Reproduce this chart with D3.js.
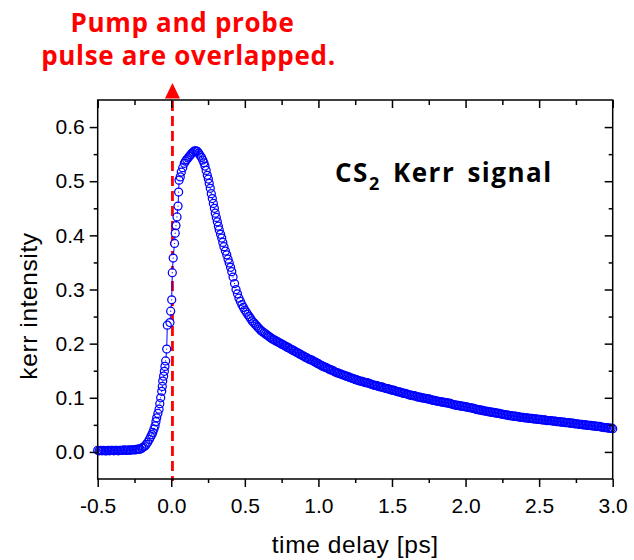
<!DOCTYPE html>
<html>
<head>
<meta charset="utf-8">
<script src="https://cdn.jsdelivr.net/npm/d3@7"></script>
<style>
  html, body { margin: 0; padding: 0; background: #ffffff; }
  svg { display: block; }
</style>
</head>
<body>
<svg id="chart" width="634" height="560"></svg>
<script>
// ---------------- data ----------------
const timeDelay = [
  // baseline
  -0.50,-0.49,-0.48,-0.47,-0.46,-0.45,-0.44,-0.43,-0.42,-0.41,
  -0.40,-0.39,-0.38,-0.37,-0.36,-0.35,-0.34,-0.33,-0.32,-0.31,
  -0.30,-0.29,-0.28,-0.27,-0.26,-0.25,-0.24,-0.23,-0.22,
  // rise
  -0.212,-0.200,-0.190,-0.178,-0.170,-0.160,-0.149,-0.140,-0.132,-0.126,
  -0.118,-0.110,-0.104,-0.099,-0.091,-0.083,-0.078,-0.072,-0.065,-0.061,
  -0.058,-0.052,-0.047,-0.043,-0.038,-0.031,-0.027,-0.009,-0.004,0.003,
  // peak and fast decay
  0.007,0.013,0.022,0.027,0.032,0.039,0.046,0.050,0.053,0.061,
  0.068,0.078,0.089,0.097,0.105,0.114,0.123,0.132,0.141,0.150,
  0.159,0.168,0.177,0.186,0.195,0.205,0.214,0.222,0.229,0.237,
  0.245,0.252,0.258,0.265,0.272,0.279,0.286,0.293,0.299,0.306,
  0.313,0.320,0.326,0.335,0.343,0.350,0.358,0.368,0.377,0.386,
  0.394,0.403,0.411,
  0.42,0.43,0.44,0.45,0.46,0.47,0.48,0.49,
  // slow decay
  0.50,0.51,0.52,0.53,0.54,0.55,0.56,0.57,0.58,0.59,
  0.60,0.61,0.62,0.63,0.64,0.65,0.66,0.67,0.68,0.69,
  0.70,0.71,0.72,0.73,0.74,0.75,0.76,0.77,0.78,0.79,
  0.80,0.81,0.82,0.83,0.84,0.85,0.86,0.87,0.88,0.89,
  0.90,0.91,0.92,0.93,0.94,0.95,0.96,0.97,0.98,0.99,
  1.00,1.01,1.02,1.03,1.04,1.05,1.06,1.07,1.08,1.09,
  1.10,1.11,1.12,1.13,1.14,1.15,1.16,1.17,1.18,1.19,
  1.20,1.21,1.22,1.23,1.24,1.25,1.26,1.27,1.28,1.29,
  1.30,1.31,1.32,1.33,1.34,1.35,1.36,1.37,1.38,1.39,
  1.40,1.41,1.42,1.43,1.44,1.45,1.46,1.47,1.48,1.49,
  1.50,1.51,1.52,1.53,1.54,1.55,1.56,1.57,1.58,1.59,
  1.60,1.61,1.62,1.63,1.64,1.65,1.66,1.67,1.68,1.69,
  1.70,1.71,1.72,1.73,1.74,1.75,1.76,1.77,1.78,1.79,
  1.80,1.81,1.82,1.83,1.84,1.85,1.86,1.87,1.88,1.89,
  1.90,1.91,1.92,1.93,1.94,1.95,1.96,1.97,1.98,1.99,
  2.00,2.01,2.02,2.03,2.04,2.05,2.06,2.07,2.08,2.09,
  2.10,2.11,2.12,2.13,2.14,2.15,2.16,2.17,2.18,2.19,
  2.20,2.21,2.22,2.23,2.24,2.25,2.26,2.27,2.28,2.29,
  2.30,2.31,2.32,2.33,2.34,2.35,2.36,2.37,2.38,2.39,
  2.40,2.41,2.42,2.43,2.44,2.45,2.46,2.47,2.48,2.49,
  2.50,2.51,2.52,2.53,2.54,2.55,2.56,2.57,2.58,2.59,
  2.60,2.61,2.62,2.63,2.64,2.65,2.66,2.67,2.68,2.69,
  2.70,2.71,2.72,2.73,2.74,2.75,2.76,2.77,2.78,2.79,
  2.80,2.81,2.82,2.83,2.84,2.85,2.86,2.87,2.88,2.89,
  2.90,2.91,2.92,2.93,2.94,2.95,2.96,2.97,2.98,2.99,
  3.00
];
const kerrIntensity = [
  // baseline
  0.003,0.002,0.003,0.002,0.003,0.002,0.002,0.003,0.002,0.003,
  0.003,0.002,0.003,0.003,0.002,0.003,0.003,0.003,0.004,0.003,
  0.003,0.004,0.003,0.004,0.004,0.004,0.004,0.005,0.005,
  // rise
  0.005,0.007,0.009,0.011,0.014,0.018,0.023,0.028,0.032,0.036,
  0.042,0.048,0.056,0.063,0.071,0.079,0.089,0.100,0.112,0.121,
  0.131,0.140,0.149,0.158,0.168,0.190,0.234,0.239,0.260,0.281,
  // peak and fast decay
  0.331,0.358,0.385,0.404,0.418,0.434,0.454,0.480,0.502,0.508,
  0.517,0.525,0.533,0.537,0.540,0.543,0.546,0.549,0.552,0.554,
  0.556,0.556,0.555,0.552,0.548,0.544,0.539,0.534,0.528,0.520,
  0.511,0.504,0.496,0.487,0.477,0.468,0.459,0.450,0.441,0.433,
  0.425,0.417,0.410,0.402,0.395,0.387,0.379,0.371,0.364,0.356,
  0.349,0.341,0.333,
  0.323,0.311,0.300,0.292,0.284,0.278,0.272,0.267,
  // slow decay
  0.262,0.258,0.254,0.250,0.246,0.242,0.239,0.236,0.233,0.230,
  0.227,0.224,0.222,0.220,0.218,0.216,0.214,0.212,0.210,0.208,
  0.207,0.205,0.204,0.202,0.201,0.199,0.198,0.196,0.195,0.193,
  0.192,0.190,0.189,0.187,0.186,0.184,0.183,0.181,0.180,0.178,
  0.177,0.175,0.174,0.172,0.171,0.170,0.169,0.167,0.166,0.164,
  0.163,0.161,0.160,0.158,0.157,0.156,0.155,0.153,0.152,0.151,
  0.150,0.148,0.147,0.146,0.145,0.144,0.143,0.142,0.141,0.140,
  0.139,0.138,0.137,0.136,0.135,0.134,0.133,0.132,0.131,0.131,
  0.130,0.129,0.128,0.128,0.127,0.126,0.125,0.124,0.123,0.123,
  0.122,0.121,0.120,0.120,0.119,0.118,0.117,0.117,0.116,0.115,
  0.114,0.114,0.113,0.112,0.111,0.111,0.110,0.109,0.108,0.108,
  0.107,0.106,0.105,0.105,0.104,0.104,0.103,0.102,0.101,0.101,
  0.100,0.100,0.099,0.099,0.098,0.098,0.097,0.096,0.095,0.095,
  0.094,0.094,0.093,0.093,0.092,0.092,0.091,0.091,0.090,0.090,
  0.089,0.088,0.087,0.087,0.086,0.086,0.085,0.085,0.084,0.084,
  0.083,0.083,0.082,0.082,0.081,0.081,0.080,0.079,0.078,0.078,
  0.077,0.077,0.076,0.076,0.075,0.075,0.074,0.074,0.073,0.073,
  0.072,0.072,0.071,0.071,0.070,0.070,0.069,0.069,0.068,0.068,
  0.067,0.067,0.066,0.066,0.066,0.065,0.065,0.064,0.064,0.064,
  0.063,0.063,0.063,0.062,0.062,0.062,0.061,0.061,0.061,0.060,
  0.060,0.060,0.059,0.059,0.059,0.058,0.058,0.058,0.058,0.057,
  0.057,0.057,0.056,0.056,0.056,0.055,0.055,0.055,0.054,0.054,
  0.054,0.053,0.053,0.053,0.052,0.052,0.052,0.051,0.051,0.051,
  0.050,0.050,0.050,0.049,0.049,0.049,0.048,0.048,0.048,0.047,
  0.047,0.047,0.046,0.046,0.045,0.045,0.045,0.044,0.044,0.044,
  0.043
];

const xTickValues = [-0.5, 0.0, 0.5, 1.0, 1.5, 2.0, 2.5, 3.0];
const xMinorValues = [-0.25, 0.25, 0.75, 1.25, 1.75, 2.25, 2.75];
const yTickValues = [0.0, 0.1, 0.2, 0.3, 0.4, 0.5, 0.6];
const yMinorValues = [0.05, 0.15, 0.25, 0.35, 0.45, 0.55];

const xDomain = [-0.5, 3.0];
const yDomain = [-0.05, 0.65];
const overlapTime = 0.008;

const xTitle = "time delay [ps]";
const yTitle = "kerr intensity";
const annotationLines = ["Pump and probe", "pulse are overlapped."];
const legendMain = "CS";
const legendSub = "2";
const legendRest = " Kerr signal";

// ---------------- layout ----------------
const svg = d3.select("#chart");
const L = 97.7, R = 612.7, T = 100, B = 479;
const x = d3.scaleLinear().domain(xDomain).range([L, R]);
const y = d3.scaleLinear().domain(yDomain).range([B, T]);
const axisFont = "'Liberation Sans', Arial, sans-serif";
const boldFont = "'Open Sans', 'Noto Sans', sans-serif";
const blue = "#0000ff";

svg.append("rect").attr("width", 634).attr("height", 560).attr("fill", "#fff");

const n = Math.min(timeDelay.length, kerrIntensity.length);
const pts = timeDelay.slice(0, n).map((t, i) => ({ t, v: kerrIntensity[i] }));

// overlap marker (dashed line), behind the data
svg.append("line")
  .attr("x1", x(overlapTime)).attr("x2", x(overlapTime))
  .attr("y1", T + 1).attr("y2", B + 2)
  .attr("stroke", "#ff0000").attr("stroke-width", 2.8)
  .attr("stroke-dasharray", "10,5");

// data: connecting line, masks, rings
const line = d3.line().x(d => x(d.t)).y(d => y(d.v));
svg.append("path").datum(pts).attr("d", line)
  .attr("fill", "none").attr("stroke", blue).attr("stroke-width", 1);
svg.append("g").selectAll("circle").data(pts).join("circle")
  .attr("cx", d => x(d.t)).attr("cy", d => y(d.v)).attr("r", 3.2)
  .attr("fill", "#fff");
svg.append("g").selectAll("circle").data(pts).join("circle")
  .attr("cx", d => x(d.t)).attr("cy", d => y(d.v)).attr("r", 4.0)
  .attr("fill", "none").attr("stroke", blue).attr("stroke-width", 1.25);
svg.append("g").selectAll("circle").data(pts).join("circle")
  .attr("cx", d => x(d.t)).attr("cy", d => y(d.v)).attr("r", 0.6)
  .attr("fill", blue);

// axes
function styleAxis(g) {
  g.select(".domain").remove();
  g.selectAll(".tick line").attr("stroke", "#000").attr("stroke-width", 1.5);
  g.selectAll(".tick text").attr("fill", "#000")
    .style("font-family", axisFont).style("font-size", "21px");
}
const fmt = d => d.toFixed(1);

svg.append("g").attr("transform", `translate(0,${B})`)
  .call(d3.axisBottom(x).tickValues(xTickValues).tickSize(8).tickPadding(11).tickFormat(fmt))
  .call(styleAxis);
svg.append("g").attr("transform", `translate(0,${B})`)
  .call(d3.axisBottom(x).tickValues(xMinorValues).tickSize(4).tickFormat(""))
  .call(styleAxis);
svg.append("g").attr("transform", `translate(${L},0)`)
  .call(d3.axisLeft(y).tickValues(yTickValues).tickSize(8).tickPadding(5).tickFormat(fmt))
  .call(styleAxis);
svg.append("g").attr("transform", `translate(${L},0)`)
  .call(d3.axisLeft(y).tickValues(yMinorValues).tickSize(4).tickFormat(""))
  .call(styleAxis);
svg.append("g").attr("transform", `translate(0,${T})`)
  .call(d3.axisTop(x).tickValues(xTickValues).tickSize(-8).tickFormat(""))
  .call(styleAxis);
svg.append("g").attr("transform", `translate(0,${T})`)
  .call(d3.axisTop(x).tickValues(xMinorValues).tickSize(-5).tickFormat(""))
  .call(styleAxis);
svg.append("g").attr("transform", `translate(${R},0)`)
  .call(d3.axisRight(y).tickValues(yTickValues).tickSize(-8).tickFormat(""))
  .call(styleAxis);
svg.append("g").attr("transform", `translate(${R},0)`)
  .call(d3.axisRight(y).tickValues(yMinorValues).tickSize(-4).tickFormat(""))
  .call(styleAxis);

svg.append("rect").attr("x", L).attr("y", T).attr("width", R - L).attr("height", B - T)
  .attr("fill", "none").attr("stroke", "#000").attr("stroke-width", 1.5);

// axis titles
svg.append("text").attr("x", (L + R) / 2).attr("y", 553)
  .attr("text-anchor", "middle").style("font-family", axisFont)
  .style("font-size", "24.5px").style("letter-spacing", "0.6px").text(xTitle);
svg.append("text").attr("transform", "translate(37,306) rotate(-90)")
  .attr("text-anchor", "middle").style("font-family", axisFont)
  .style("font-size", "24.5px").style("letter-spacing", "0.6px").text(yTitle);

// arrow head
const ax = x(overlapTime);
svg.append("path")
  .attr("d", d3.line()([[ax, 83], [ax - 7.5, 98.5], [ax + 7.5, 98.5]]) + "Z")
  .attr("fill", "#ff0000");

// annotation text
svg.append("g").selectAll("text").data(annotationLines).join("text")
  .attr("x", (d, i) => i === 0 ? 182.5 : 188.5)
  .attr("y", (d, i) => 32 + i * 33)
  .attr("text-anchor", "middle").attr("fill", "#ff0000")
  .style("font-family", boldFont).style("font-weight", 700).style("font-size", "26px")
  .style("letter-spacing", "0.7px")
  .text(d => d);

// legend
const leg = svg.append("text").attr("x", 335).attr("y", 182)
  .style("font-family", boldFont).style("font-weight", 700).style("font-size", "26px")
  .style("letter-spacing", "1.5px").style("word-spacing", "4px")
  .attr("fill", "#000");
leg.append("tspan").text(legendMain);
leg.append("tspan").attr("dy", 8).style("font-size", "18px").text(legendSub);
leg.append("tspan").attr("dy", -8).text(legendRest);
</script>
</body>
</html>
